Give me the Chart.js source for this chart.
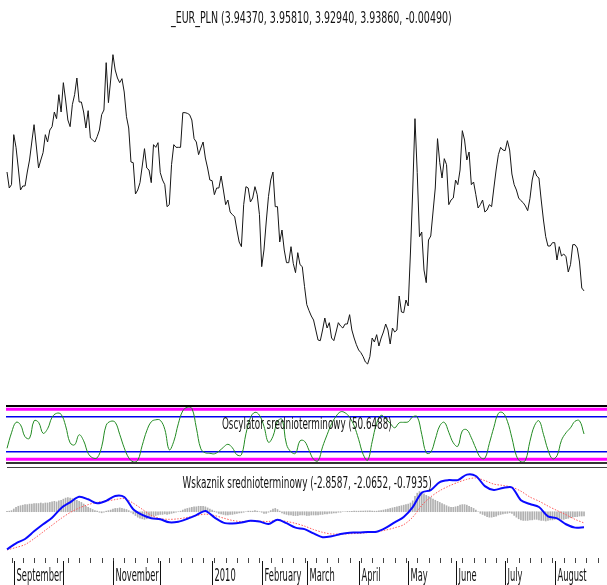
<!DOCTYPE html>
<html>
<head>
<meta charset="utf-8">
<script src="https://cdn.jsdelivr.net/npm/chart.js@4/dist/chart.umd.min.js"></script>
<style>
  html, body { margin: 0; padding: 0; background: #fff; }
  #wrap { position: relative; width: 607px; height: 585px; overflow: hidden;
          font-family: 'Liberation Sans Narrow', 'DejaVu Sans Condensed', sans-serif; color: #111; }
  canvas { position: absolute; left: 0; }
  .ttl { position: absolute; white-space: nowrap; line-height: 1; }
  .rule { position: absolute; }
</style>
</head>
<body>
<div id="wrap">
  <canvas id="priceChart" width="607" height="400" style="top:0"></canvas>
  <canvas id="oscChart" width="607" height="58" style="top:406px"></canvas>
  <canvas id="macdChart" width="607" height="117" style="top:468px"></canvas>

  <div class="rule" style="top:405px; left:6px; width:601px; height:2px; background:#000"></div>
  <div class="rule" style="top:462px; left:6px; width:601px; height:2px; background:#333"></div>
  <div class="rule" style="top:467px; left:7px; width:600px; height:1px; background:#444"></div>

  <div id="mainTitle" class="ttl" style="top:10px; font-size:16px">_EUR_PLN (3.94370, 3.95810, 3.92940, 3.93860, -0.00490)</div>
  <div id="oscTitle" class="ttl" style="top:416px; font-size:16px">Oscylator srednioterminowy (50.6488)</div>
  <div id="macdTitle" class="ttl" style="top:475px; font-size:16px">Wskaznik srednioterminowy (-2.8587, -2.0652, -0.7935)</div>
</div>

<script>
// Daily closes, trading-day index 0..256 (late Aug 2009 - mid Aug 2010)
var closes = [
  4.117, 4.093, 4.098, 4.173, 4.154, 4.123, 4.090, 4.096, 4.096, 4.117,
  4.135, 4.162, 4.188, 4.156, 4.123, 4.135, 4.146, 4.173, 4.162, 4.180,
  4.185, 4.207, 4.197, 4.233, 4.207, 4.251, 4.225, 4.195, 4.185, 4.218,
  4.233, 4.258, 4.222, 4.222, 4.207, 4.183, 4.209, 4.168, 4.165, 4.162,
  4.170, 4.180, 4.203, 4.210, 4.281, 4.221, 4.255, 4.293, 4.270, 4.258,
  4.251, 4.257, 4.237, 4.200, 4.183, 4.132, 4.131, 4.084, 4.090, 4.101,
  4.126, 4.152, 4.123, 4.120, 4.101, 4.158, 4.154, 4.161, 4.116, 4.105,
  4.098, 4.065, 4.068, 4.128, 4.158, 4.154, 4.154, 4.154, 4.206, 4.206,
  4.205, 4.203, 4.195, 4.167, 4.162, 4.143, 4.153, 4.162, 4.138, 4.123,
  4.105, 4.104, 4.083, 4.093, 4.093, 4.111, 4.090, 4.068, 4.075, 4.057,
  4.053, 4.050, 4.030, 4.012, 4.005, 4.068, 4.095, 4.093, 4.072, 4.078,
  4.095, 4.083, 4.053, 3.975, 4.000, 4.042, 4.080, 4.105, 4.117, 4.065,
  4.065, 4.012, 4.030, 4.000, 3.981, 3.981, 4.005, 3.980, 3.966, 3.996,
  3.978, 3.975, 3.945, 3.918, 3.909, 3.901, 3.895, 3.880, 3.865, 3.864,
  3.880, 3.898, 3.883, 3.891, 3.868, 3.864, 3.877, 3.891, 3.886, 3.883,
  3.889, 3.889, 3.903, 3.880, 3.868, 3.858, 3.850, 3.846, 3.840, 3.832,
  3.829, 3.840, 3.868, 3.862, 3.873, 3.856, 3.868, 3.877, 3.889, 3.880,
  3.859, 3.883, 3.877, 3.880, 3.931, 3.907, 3.906, 3.925, 3.916, 3.997,
  4.090, 4.197, 4.116, 4.020, 4.027, 3.970, 3.951, 4.015, 4.021, 4.057,
  4.093, 4.167, 4.131, 4.108, 4.137, 4.128, 4.068, 4.075, 4.078, 4.105,
  4.098, 4.120, 4.179, 4.165, 4.135, 4.147, 4.098, 4.102, 4.083, 4.063,
  4.068, 4.075, 4.057, 4.060, 4.068, 4.065, 4.093, 4.120, 4.143, 4.154,
  4.150, 4.149, 4.164, 4.150, 4.114, 4.098, 4.090, 4.078, 4.074, 4.071,
  4.066, 4.059, 4.077, 4.105, 4.120, 4.111, 4.108, 4.075, 4.045, 4.020,
  4.006, 4.006, 4.011, 4.011, 3.985, 4.005, 3.991, 3.994, 3.990, 3.967,
  3.978, 4.008, 4.008, 4.003, 3.982, 3.943, 3.9386
];

// Oscillator, read every 2nd trading day
var oscStep = 2;
var oscillator = [
  22, 53, 74, 69, 45, 42, 77, 74, 52, 61,
  84, 92, 90, 67, 33, 29, 49, 37, 12, 3,
  3, 25, 68, 76, 74, 50, 23, 3, -5, -2,
  28, 57, 75, 79, 78, 60, 19, 36, 71, 97,
  104, 102, 63, 21, 13, 12, 11, 16, 24, 30,
  23, 9, 9, 51, 83, 94, 88, 66, 34, 46,
  76, 80, 30, 15, 12, 37, 36, 18, 0, -3,
  25, 49, 71, 86, 95, 93, 84, 67, 40, 10,
  -2, 35, 72, 88, 81, 72, 63, 73, 74, 75,
  85, 85, 50, 13, 14, 40, 67, 74, 54, 33,
  26, 57, 59, 43, 22, 4, 2, 32, 64, 92,
  93, 76, 43, 7, -5, -2, 36, 67, 77, 50,
  19, 1, 7, 38, 53, 63, 76, 77, 50.6488
];
var oscOuter = [0, 100];
var oscInner = [15, 85];

// MACD-style indicator, lines read every 4th trading day, histogram daily
var macdStep = 4;
var macdLine = [
  -6.9, -5.8, -5.0, -3.6, -2.3, -1.1, 0.65, 1.73, 2.73, 2.28,
  1.55, 2.0, 2.9, 2.7, 0.45, -0.6, -1.2, -1.4, -1.95, -1.83,
  -1.3, -0.62, 0.13, -1.05, -2.0, -2.17, -2.0, -1.65, -1.8, -2.24,
  -1.46, -2.1, -2.92, -3.2, -3.98, -4.69, -4.52, -4.1, -3.85, -3.83,
  -3.72, -3.68, -2.98, -1.95, -0.97, 0.85, 3.49, 3.98, 5.45, 5.8,
  5.8, 6.8, 6.55, 4.7, 4.0, 4.35, 4.45, 2.1, 1.41, 0.87,
  -0.85, -1.22, -2.3, -2.92, -2.8587
];
var signalLine = [
  -7.0, -6.57, -6.03, -4.95, -3.72, -2.47, -1.24, -0.15, 0.68, 1.3,
  1.73, 1.95, 2.22, 2.42, 1.56, 0.45, -0.67, -1.26, -1.4, -1.3,
  -1.04, -0.71, -0.45, -0.7, -1.16, -1.6, -1.81, -1.69, -1.74, -1.79,
  -1.58, -1.79, -2.14, -2.64, -3.27, -3.78, -4.09, -4.09, -4.04, -3.97,
  -3.83, -3.67, -3.37, -2.95, -2.38, -1.0, 1.15, 2.72, 3.86, 4.7,
  5.38, 5.94, 6.2, 5.71, 5.06, 4.82, 4.5, 3.77, 2.69, 1.94,
  1.04, 0.22, -0.55, -1.4, -2.0652
];
var histogram = [
  0.05, 0.1, 0.2, 0.5, 0.8, 1.0, 1.1, 1.2, 1.3, 1.3,
  1.4, 1.4, 1.5, 1.5, 1.5, 1.6, 1.5, 1.6, 1.6, 1.7,
  1.8, 1.9, 1.8, 2.0, 2.1, 2.3, 2.5, 2.6, 2.5, 2.4,
  2.2, 2.1, 1.9, 1.7, 1.4, 1.0, 0.8, 0.6, 0.4, 0.2,
  0.1, -0.1, -0.2, -0.1, 0.1, 0.2, 0.3, 0.5, 0.6, 0.6,
  0.7, 0.6, 0.5, 0.4, 0.2, -0.1, -0.4, -0.7, -1.0, -1.2,
  -1.3, -1.4, -1.3, -1.1, -0.9, -0.8, -0.7, -0.6, -0.5, -0.5,
  -0.4, -0.5, -0.4, -0.3, -0.2, -0.1, 0.0, 0.1, 0.3, 0.5,
  0.6, 0.7, 0.8, 0.9, 0.9, 1.0, 1.0, 1.0, 0.9, 0.7,
  0.5, 0.3, 0.1, -0.1, -0.3, -0.4, -0.5, -0.6, -0.6, -0.5,
  -0.5, -0.4, -0.3, -0.2, -0.2, -0.1, 0.0, 0.1, 0.1, 0.1,
  0.2, 0.1, 0.0, -0.1, -0.3, -0.3, -0.1, 0.2, 0.5, 0.6,
  0.4, 0.1, -0.2, -0.4, -0.5, -0.6, -0.6, -0.7, -0.7, -0.7,
  -0.6, -0.6, -0.6, -0.7, -0.7, -0.6, -0.6, -0.6, -0.6, -0.5,
  -0.5, -0.4, -0.4, -0.3, -0.3, -0.2, -0.2, -0.1, -0.1, 0.0,
  0.0, 0.05, 0.05, 0.05, 0.1, 0.1, 0.1, 0.1, 0.1, 0.15,
  0.15, 0.15, 0.1, 0.1, 0.1, 0.15, 0.2, 0.3, 0.4, 0.5,
  0.6, 0.7, 0.8, 0.9, 1.0, 1.1, 1.2, 1.3, 1.4, 1.6,
  2.0, 2.8, 3.4, 3.7, 3.6, 3.3, 3.0, 2.8, 2.6, 2.3,
  2.1, 1.9, 1.7, 1.5, 1.3, 1.1, 0.9, 0.8, 0.8, 0.9,
  1.0, 1.2, 1.3, 1.3, 1.2, 1.0, 0.8, 0.6, 0.3, 0.0,
  -0.3, -0.5, -0.7, -0.9, -1.0, -1.0, -0.9, -0.8, -0.6, -0.5,
  -0.4, -0.3, -0.3, -0.2, -0.3, -0.7, -1.0, -1.3, -1.5, -1.6,
  -1.6, -1.6, -1.5, -1.5, -1.4, -1.4, -1.5, -1.6, -1.6, -1.7,
  -1.6, -1.5, -1.5, -1.4, -1.3, -1.3, -1.4, -1.4, -1.3, -1.2,
  -1.1, -1.0, -0.9, -0.9, -0.8, -0.8, -0.7935
];

// Time axis: first trading day of each month, and its label
var monthStarts = [3, 25, 47, 68, 91, 113, 133, 156, 178, 199, 221, 243];
var monthLabels = ['September', '', 'November', '', '2010', 'February', 'March', 'April', 'May', 'June', 'July', 'August'];
var firstWeekTick = 2;

var xMin = -3.106;
var xMax = 266.19;
var fontStack = "'Liberation Sans Narrow', 'DejaVu Sans Condensed', sans-serif";

/**
 * Turn a sampled series into {x, y} points on the trading-day axis
 */
function toPoints(values, step) {
  return values.map(function (v, i) {
    return { x: i * step, y: v };
  });
}

function baseOptions(yMin, yMax) {
  return {
    responsive: false,
    animation: false,
    events: [],
    layout: { padding: 0 },
    plugins: { legend: { display: false }, tooltip: { enabled: false }, title: { display: false } },
    scales: {
      x: { type: 'linear', min: xMin, max: xMax, display: false, offset: false },
      y: { min: yMin, max: yMax, display: false }
    },
    elements: { point: { radius: 0 } }
  };
}

// horizontal level lines of the oscillator panel
var levelsPlugin = {
  id: 'levels',
  beforeDatasetsDraw: function (chart) {
    var ctx = chart.ctx;
    var y = chart.scales.y;
    var right = chart.chartArea.right;
    ctx.save();
    ctx.strokeStyle = '#ff00ff';
    ctx.lineWidth = 3;
    oscOuter.forEach(function (v) {
      var py = y.getPixelForValue(v);
      ctx.beginPath(); ctx.moveTo(6, py); ctx.lineTo(right, py); ctx.stroke();
    });
    ctx.strokeStyle = '#0000ee';
    ctx.lineWidth = 1.4;
    oscInner.forEach(function (v) {
      var py = y.getPixelForValue(v);
      ctx.beginPath(); ctx.moveTo(6, py); ctx.lineTo(right, py); ctx.stroke();
    });
    ctx.restore();
  }
};

// week ticks, month separators and month names under the bottom panel
var timeAxisPlugin = {
  id: 'timeAxis',
  afterDraw: function (chart) {
    var ctx = chart.ctx;
    var x = chart.scales.x;
    var top = chart.chartArea.bottom;
    ctx.save();
    ctx.lineWidth = 1;
    ctx.strokeStyle = '#444';
    for (var d = firstWeekTick; d < xMax; d += 5) {
      var px = Math.round(x.getPixelForValue(d)) + 0.5;
      ctx.beginPath(); ctx.moveTo(px, top + 1); ctx.lineTo(px, top + 6); ctx.stroke();
    }
    ctx.font = '17px ' + fontStack;
    ctx.fillStyle = '#111';
    var squeeze = 46 / ctx.measureText('September').width;
    ctx.strokeStyle = '#111';
    monthStarts.forEach(function (d, k) {
      var px = Math.round(x.getPixelForValue(d)) + 0.5;
      ctx.beginPath(); ctx.moveTo(px, top + 4); ctx.lineTo(px, top + 28); ctx.stroke();
      if (monthLabels[k]) {
        ctx.save();
        ctx.translate(px + 2, top + 24);
        ctx.scale(squeeze, 1);
        ctx.fillText(monthLabels[k], 0, 0);
        ctx.restore();
      }
    });
    ctx.restore();
  }
};

new Chart(document.getElementById('priceChart'), {
  type: 'line',
  data: {
    datasets: [{
      data: toPoints(closes, 1),
      borderColor: '#161616',
      borderWidth: 1,
      tension: 0
    }]
  },
  options: baseOptions(3.775, 4.375)
});

new Chart(document.getElementById('oscChart'), {
  type: 'line',
  data: {
    datasets: [{
      data: toPoints(oscillator, oscStep),
      borderColor: '#228b22',
      borderWidth: 1,
      tension: 0.4
    }]
  },
  options: baseOptions(-9.4, 106.6),
  plugins: [levelsPlugin]
});

var macdOptions = baseOptions(-8.31, 8.02);
macdOptions.layout.padding = { bottom: 28 };
new Chart(document.getElementById('macdChart'), {
  type: 'line',
  data: {
    datasets: [
      {
        type: 'line',
        data: toPoints(macdLine, macdStep),
        borderColor: '#0a0aff',
        borderWidth: 2,
        tension: 0.3,
        order: 1
      },
      {
        type: 'line',
        data: toPoints(signalLine, macdStep),
        borderColor: '#ff5a5a',
        borderWidth: 1,
        borderDash: [1.5, 1.5],
        tension: 0.3,
        order: 2
      },
      {
        type: 'bar',
        data: toPoints(histogram, 1),
        backgroundColor: '#b0b0b0',
        barThickness: 1,
        order: 3
      }
    ]
  },
  options: macdOptions,
  plugins: [timeAxisPlugin]
});

/**
 * Center a title at centerX and squeeze it to the width seen in the picture
 */
function placeText(id, centerX, width) {
  var el = document.getElementById(id);
  var w = el.offsetWidth;
  el.style.transform = 'scaleX(' + (width / w) + ')';
  el.style.left = (centerX - w / 2) + 'px';
}
placeText('mainTitle', 311, 281);
placeText('oscTitle', 307, 170);
placeText('macdTitle', 307, 249);
</script>
</body>
</html>
